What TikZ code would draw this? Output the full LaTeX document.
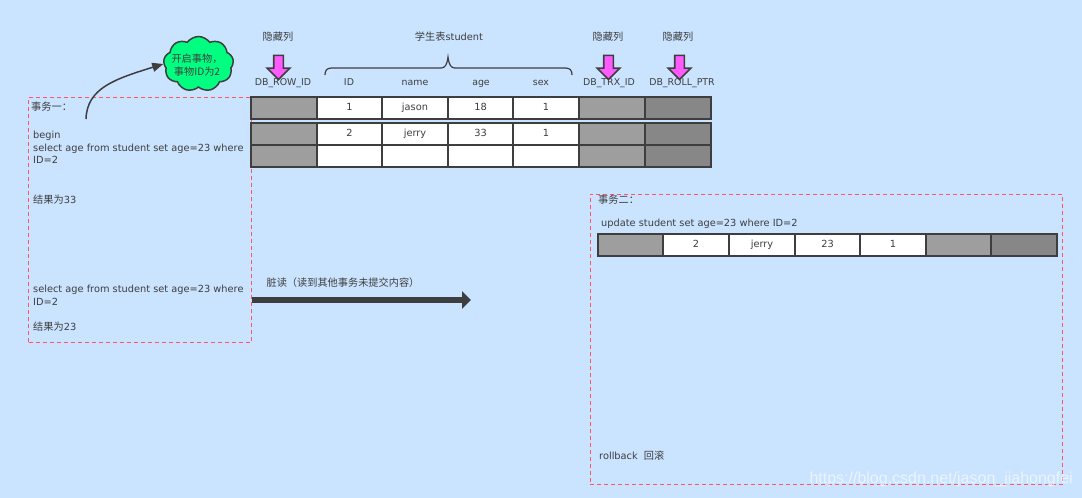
\documentclass[tikz,border=0pt]{standalone}
\usepackage{fontspec}
\setmainfont{DejaVu Sans}
\newfontfamily\cjk[Scale=1.04]{Noto Sans CJK SC}
\newfontfamily\markfont{Liberation Sans}
\usetikzlibrary{arrows.meta,shapes.symbols,shapes.arrows}
\definecolor{pagebg}{RGB}{202,228,255}
\definecolor{inkgrey}{RGB}{62,62,62}
\definecolor{hidgrey}{RGB}{158,158,158}
\definecolor{ptrgrey}{RGB}{135,135,135}
\definecolor{boxred}{RGB}{255,85,100}
\definecolor{cloudgreen}{RGB}{0,255,128}
\definecolor{arrowpink}{RGB}{255,90,255}
\tikzset{
  every node/.style={font=\fontsize{9.8}{12.6}\selectfont,text=inkgrey,inner sep=0pt},
  cell/.style={draw=inkgrey,line width=1.6pt,fill=white,minimum width=65.5pt,minimum height=22pt,text height=7.4pt,text depth=2pt},
  hidcell/.style={cell,fill=hidgrey},
  ptrcell/.style={cell,fill=ptrgrey},
  txbox/.style={draw=boxred,dash pattern=on 4pt off 3pt,line width=0.9pt},
  lab/.style={align=left,anchor=west},
  collab/.style={font=\fontsize{9.4}{12}\selectfont,text height=7.4pt,text depth=2pt},
  pinkarrow/.style={single arrow,draw=inkgrey,fill=arrowpink,line width=1.6pt,rotate=-90,inner sep=4pt,
    minimum height=24pt,minimum width=21pt,single arrow head extend=6.5pt,single arrow tip angle=90},
}
\begin{document}
\begin{tikzpicture}[x=1pt,y=-1pt]
\useasboundingbox (0,0) rectangle (1082,498);
\fill[pagebg] (0,0) rectangle (1082,498);

% transaction boxes
\node[txbox,minimum width=222.5pt,minimum height=245pt] (txone) at (139.75,219.5) {};
\node[txbox,minimum width=472.5pt,minimum height=290pt] (txtwo) at (826.25,339) {};

% column labels
\node (hidea) at (278,37) {\cjk 隐藏列};
\node (hideb) at (608,37) {\cjk 隐藏列};
\node (hidec) at (678,37) {\cjk 隐藏列};
\node (title) at (449,37) {{\cjk 学生表}student};
\foreach \n/\cx/\txt in {rowid/283/DB\_ROW\_ID,id/349/ID,name/415/name,age/481/age,sex/541/sex,trxid/609/DB\_TRX\_ID,ptr/682/DB\_ROLL\_PTR}
  \node[collab] (col\n) at (\cx,83) {\txt};

% hidden column arrows
\foreach \n/\cx in {a/278.5,b/608.5,c/679.5}
  \node[pinkarrow] (pink\n) at (\cx,65) {};

% brace over the student columns
\draw[inkgrey,line width=1.2pt] (325,75) .. controls (325,70) and (327,68) .. (332,68) -- (441,68)
  .. controls (445,68) and (447,65) .. (448,57) .. controls (449,65) and (451,68) .. (455,68)
  -- (565,68) .. controls (570,68) and (572,70) .. (572,75);

% rows of the table
\foreach \n/\cy/\cb/\cc/\cd/\ce in {one/108/1/jason/18/1,two/134/2/jerry/33/1,three/156///}{
  \node[hidcell] (\n a) at (284,\cy) {};
  \node[cell] (\n b) at (349.5,\cy) {\cb};
  \node[cell] (\n c) at (415,\cy) {\cc};
  \node[cell] (\n d) at (480.5,\cy) {\cd};
  \node[cell] (\n e) at (546,\cy) {\ce};
  \node[hidcell] (\n f) at (612,\cy) {};
  \node[ptrcell] (\n g) at (678,\cy) {};
}

% row changed by the second transaction
\node[hidcell] (newa) at (630.5,245) {};
\foreach \n/\cx/\txt in {b/696/2,c/762/jerry,d/827.5/23,e/893/1}
  \node[cell] (new\n) at (\cx,245) {\txt};
\node[hidcell] (newf) at (958.5,245) {};
\node[ptrcell] (newg) at (1024,245) {};

% first transaction
\node[lab] (onehead) at (31,107) {\cjk 事务一：};
\node[lab] (onesql) at (33,147.5) {begin\\select age from student set age=23 where\\ID=2};
\node[lab] (oneres) at (33,199.5) {{\cjk 结果为}33};
\node[lab] (onesqlb) at (33,295) {select age from student set age=23 where\\ID=2};
\node[lab] (oneresb) at (33,327) {{\cjk 结果为}23};

% second transaction
\node[lab] (twohead) at (598,200) {\cjk 事务二：};
\node[lab] (twosql) at (601,223.5) {update student set age=23 where ID=2};
\node[lab] (tworb) at (599,455.5) {rollback\ \ {\cjk 回滚}};

% cloud
\node[cloud,cloud puffs=9,cloud puff arc=110,aspect=1.25,draw=inkgrey,fill=cloudgreen,line width=1.5pt,
  minimum width=70pt,minimum height=55pt,align=center] (start) at (198.5,64) {};
\node[align=center] (starttxt) at (197,65) {\cjk 开启事物，\\\cjk 事物ID为2};
\coordinate (startfrom) at (86,119);
\draw[-{Triangle[length=11pt,width=9pt]},inkgrey,line width=1.5pt] (startfrom) .. controls (87,88) and (115,79) .. (start.west);

% dirty read
\node (dirty) at (343,283) {\cjk 脏读（读到其他事务未提交内容）};
\coordinate (dirtyfrom) at (252,300);
\coordinate (dirtyto) at (471,300);
\draw[-{Triangle[length=9pt,width=17pt]},draw=inkgrey,fill=inkgrey,line width=6pt] (dirtyfrom) -- (dirtyto);

% watermark
\node[anchor=east,text=white,text opacity=0.6,font=\markfont\fontsize{16}{18}\selectfont] (mark) at (1073,479) {https://blog.csdn.net/jason\_jiahongfei};
\end{tikzpicture}
\end{document}
